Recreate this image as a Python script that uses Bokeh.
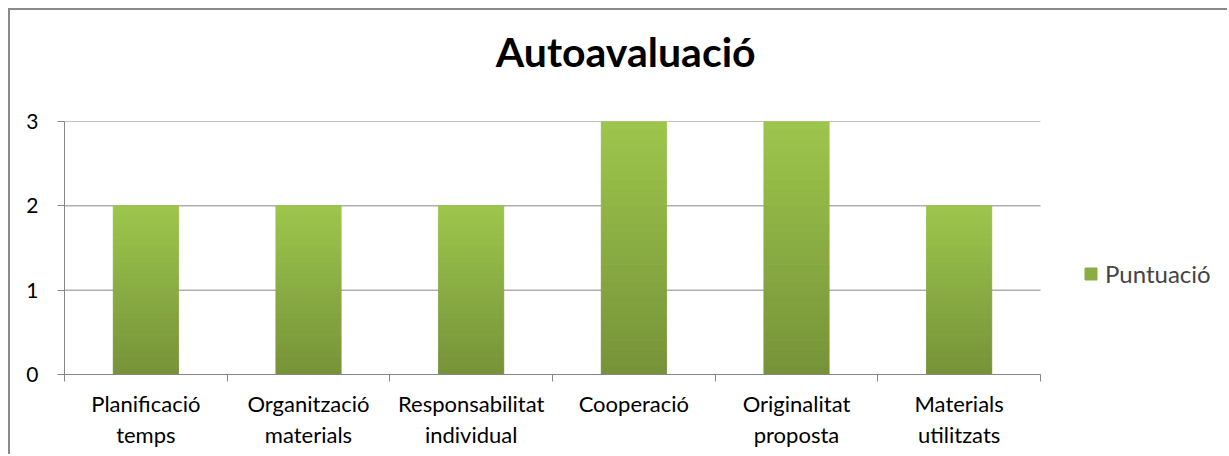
from bokeh.plotting import figure
from bokeh.models import FixedTicker, Legend, LegendItem, Range1d, LinearAxis
from bokeh.embed import file_html
from bokeh.resources import INLINE

categories = ["Planificació\ntemps", "Organització\nmaterials", "Responsabilitat\nindividual",
              "Cooperació", "Originalitat\nproposta", "Materials\nutilitzats"]
values = [2, 2, 2, 3, 3, 2]
series_name = "Puntuació"
chart_title = "Autoavaluació"
y_ticks = [0, 1, 2, 3]

FONT = "Lato"
GRID = "#868686"
TOP_RGB = (157, 198, 76)
BOT_RGB = (118, 146, 57)
N_SLICES = 30

# layout (pixels)
FIG_W, FIG_H = 1219, 446
BORDER_L, BORDER_T, BORDER_B = 54, 111, 82
PLOT_W = 976            # width of the axes area that holds the categories
FRAME_W = 1161          # frame extends right so the legend sits inside it
BORDER_R = FIG_W - BORDER_L - FRAME_W

n = len(categories)
x_end = n * FRAME_W / PLOT_W
p = figure(width=FIG_W, height=FIG_H, output_backend="svg", toolbar_location=None,
           x_range=Range1d(0, x_end), y_range=Range1d(y_ticks[0], y_ticks[-1]),
           min_border_left=BORDER_L, min_border_right=BORDER_R,
           min_border_top=BORDER_T, min_border_bottom=BORDER_B)
p.outline_line_color = None
p.background_fill_color = "white"
p.border_fill_color = "white"
p.styles = {"margin": "8px 0 0 8px", "border-top": "2px solid #8a8a8a",
            "border-left": "2px solid #8a8a8a"}

centers = [i + 0.5 for i in range(n)]

# horizontal gridlines, limited to the category area
p.xgrid.grid_line_color = None
p.ygrid.grid_line_color = None
p.segment(x0=[0] * len(y_ticks), x1=[n] * len(y_ticks), y0=y_ticks, y1=y_ticks,
          line_color=GRID, line_width=1)

def mix(t):
    r = [round(BOT_RGB[k] + (TOP_RGB[k] - BOT_RGB[k]) * t) for k in range(3)]
    return "#%02x%02x%02x" % tuple(r)

mid_renderer = None
for k in range(N_SLICES):
    bottoms = [v * k / N_SLICES for v in values]
    tops = [v * (k + 1) / N_SLICES for v in values]
    c = mix((k + 0.5) / N_SLICES)
    r = p.vbar(x=centers, width=0.4, bottom=bottoms, top=tops,
               fill_color=c, line_color=c, line_width=1)
    if k == N_SLICES // 2:
        mid_renderer = r

# x axis: labels at category centres, tick marks at category boundaries
p.xaxis.bounds = (0, n)
p.xaxis.ticker = FixedTicker(ticks=centers, minor_ticks=list(range(n + 1)))
p.xaxis.major_label_overrides = {c: lab for c, lab in zip(centers, categories)}
p.xaxis.major_tick_out = 0
p.xaxis.major_tick_in = 0
p.xaxis.minor_tick_out = 7
p.xaxis.minor_tick_in = 0
p.xaxis.minor_tick_line_color = GRID
p.xaxis.axis_line_color = GRID
p.xaxis.major_label_text_font = FONT
p.xaxis.major_label_text_font_size = "22px"
p.xaxis.major_label_text_line_height = 1.15
p.xaxis.major_label_text_color = "black"
p.xaxis.major_label_standoff = 8

p.yaxis.ticker = FixedTicker(ticks=y_ticks, minor_ticks=[])
p.yaxis.major_tick_out = 7
p.yaxis.major_tick_in = 0
p.yaxis.major_tick_line_color = GRID
p.yaxis.axis_line_color = GRID
p.yaxis.major_label_text_font = FONT
p.yaxis.major_label_text_font_size = "21px"
p.yaxis.major_label_text_color = "black"
p.yaxis.major_label_standoff = 19

# title: centred over the whole chart area (not over the bars)
TITLE_X = n / 2 + 0.45
title_axis = LinearAxis(ticker=FixedTicker(ticks=[TITLE_X], minor_ticks=[]),
                        major_label_overrides={TITLE_X: chart_title})
title_axis.axis_line_color = None
title_axis.major_tick_line_color = None
title_axis.major_tick_out = 0
title_axis.major_tick_in = 0
title_axis.major_label_text_font = FONT
title_axis.major_label_text_font_style = "bold"
title_axis.major_label_text_font_size = "41px"
title_axis.major_label_text_color = "black"
title_axis.major_label_standoff = 46
p.add_layout(title_axis, "above")

legend = Legend(items=[LegendItem(label=series_name, renderers=[mid_renderer])],
                location=(1019, 86), orientation="vertical")
legend.border_line_color = None
legend.background_fill_alpha = 0
legend.padding = 0
legend.margin = 0
legend.glyph_width = 15
legend.glyph_height = 15
legend.label_standoff = 7
legend.label_text_font = FONT
legend.label_text_font_size = "24px"
p.add_layout(legend, "center")

open("out.html", "w").write(file_html(p, INLINE))
